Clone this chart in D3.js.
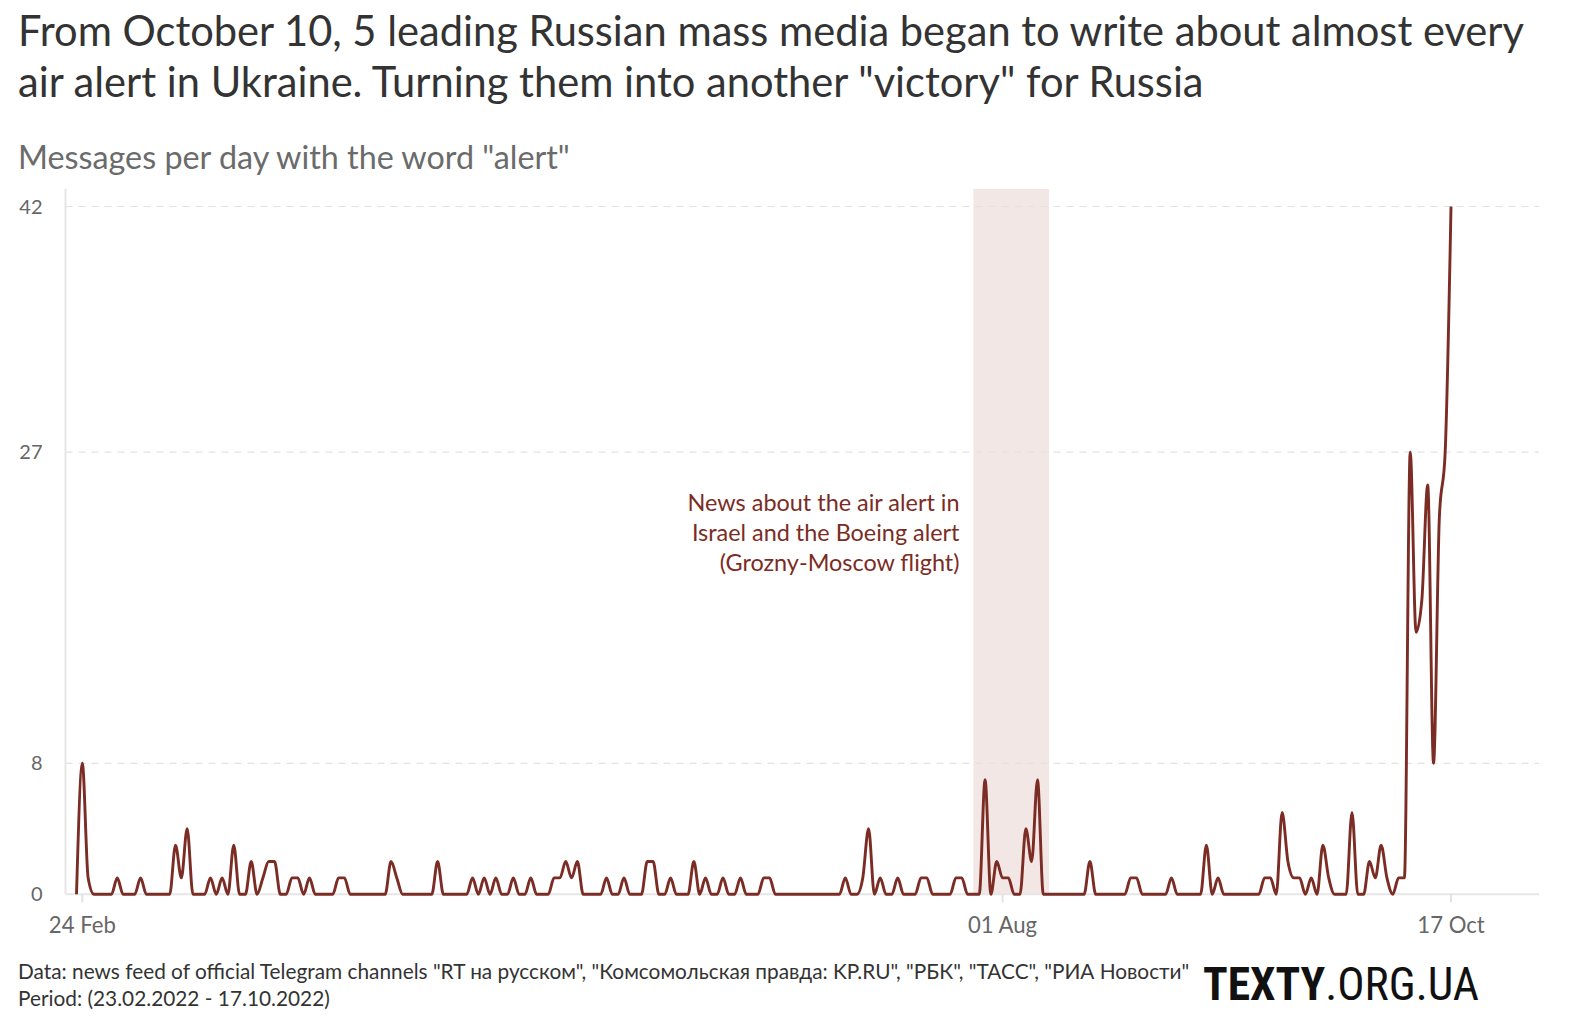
<!DOCTYPE html>
<html><head><meta charset="utf-8">
<script src="https://cdn.jsdelivr.net/npm/d3@7"></script>
<style>
html,body{margin:0;padding:0;background:#fff;}
svg{display:block;font-family:Lato,"Noto Sans",sans-serif;}
</style></head>
<body>
<svg id="chart" width="1577" height="1032"></svg>
<script>
// ---- data ----
const startDate = "2022-02-23";
const endDate = "2022-10-17";
const values = [
 0,8,1,0,0,0,0,1,0,0,
 0,1,0,0,0,0,0,3,1,4,
 0,0,0,1,0,1,0,3,0,0,
 2,0,1,2,2,0,0,1,1,0,
 1,0,0,0,0,1,1,0,0,0,
 0,0,0,0,2,1,0,0,0,0,
 0,0,2,0,0,0,0,0,1,0,
 1,0,1,0,0,1,0,0,1,0,
 0,0,1,1,2,1,2,0,0,0,
 0,1,0,0,1,0,0,0,2,2,
 0,0,1,0,0,0,2,0,1,0,
 0,1,0,0,1,0,0,0,1,1,
 0,0,0,0,0,0,0,0,0,0,
 0,0,1,0,0,1,4,0,1,0,
 0,1,0,0,0,1,1,0,0,0,
 0,1,1,0,0,0,7,0,2,1,
 1,0,0,4,2,7,0,0,0,0,
 0,0,0,0,2,0,0,0,0,0,
 0,1,1,0,0,0,0,0,1,0,
 0,0,0,0,3,0,1,0,0,0,
 0,0,0,0,1,1,0,5,2,1,
 1,0,1,0,3,1,0,0,0,5,
 0,0,2,1,3,1,0,1,1,27,
 16,18,25,8,23,27,42
];
const yTicks = [0, 8, 27, 42];
const xTicks = ["2022-02-24", "2022-08-01", "2022-10-17"];
const xTickLabels = ["24 Feb", "01 Aug", "17 Oct"];
const highlight = ["2022-07-27", "2022-08-09"];
const titleLines = [
  "From October 10, 5 leading Russian mass media began to write about almost every",
  "air alert in Ukraine. Turning them into another \"victory\" for Russia"
];
const subtitle = "Messages per day with the word \"alert\"";
const annotationLines = ["News about the air alert in", "Israel and the Boeing alert", "(Grozny-Moscow flight)"];
const sourceLines = [
  "Data: news feed of official Telegram channels \"RT на русском\", \"Комсомольская правда: KP.RU\", \"РБК\", \"ТАСС\", \"РИА Новости\"",
  "Period: (23.02.2022 - 17.10.2022)"
];

// ---- setup ----
const parse = d3.utcParse("%Y-%m-%d");
const dates = d3.utcDay.range(parse(startDate), d3.utcDay.offset(parse(endDate), 1));
const series = dates.map((d, i) => ({date: d, value: values[i]}));

const svg = d3.select("#chart");
const FONT = "Lato, 'Noto Sans', sans-serif";

function fit(sel, w) {
  const n = sel.node();
  const cur = n.getComputedTextLength();
  const fs = parseFloat(sel.attr("font-size"));
  const nf = fs * w / cur;
  sel.attr("font-size", nf.toFixed(2));
  return nf;
}

const x = d3.scaleUtc().domain([parse(startDate), parse(endDate)]).range([76.5, 1451]);
const y = d3.scaleLinear().domain([0, 42]).range([894.3, 206.5]);
const plotLeft = 65.5, plotRight = 1539, plotTop = 189;

// title
let titleSize = 38;
titleLines.forEach((t, i) => {
  const s = svg.append("text").attr("x", 18).attr("y", 46 + i * 51)
    .attr("font-size", titleSize).attr("fill", "#333").attr("font-family", FONT).text(t);
  if (i === 0) titleSize = fit(s, 1506);
});

const sub = svg.append("text").attr("x", 18).attr("y", 169).attr("font-size", 27)
  .attr("fill", "#6b6b6b").attr("font-family", FONT).text(subtitle);
fit(sub, 552);

// highlight band
svg.append("rect")
  .attr("x", x(parse(highlight[0]))).attr("y", plotTop)
  .attr("width", x(parse(highlight[1])) - x(parse(highlight[0])))
  .attr("height", y(0) - plotTop)
  .attr("fill", "#f3e7e5");

// gridlines
svg.append("g").selectAll("line").data(yTicks.filter(v => v > 0)).join("line")
  .attr("x1", plotLeft).attr("x2", plotRight)
  .attr("y1", d => y(d)).attr("y2", d => y(d))
  .attr("stroke", "#e2e2e2").attr("stroke-width", 1.2).attr("stroke-dasharray", "7,6");

// left axis line
svg.append("line").attr("x1", plotLeft).attr("x2", plotLeft).attr("y1", plotTop).attr("y2", y(0))
  .attr("stroke", "#e6e6e6").attr("stroke-width", 2);

// baseline
svg.append("line").attr("x1", plotLeft).attr("x2", plotRight).attr("y1", y(0)).attr("y2", y(0))
  .attr("stroke", "#e6e6e6").attr("stroke-width", 2);

// y labels
svg.append("g").selectAll("text").data(yTicks).join("text")
  .attr("x", 42.5).attr("y", d => y(d)).attr("dy", "0.35em")
  .attr("text-anchor", "end").attr("font-size", 20).attr("fill", "#666")
  .attr("font-family", FONT).text(d => d);

// x ticks
const xt = svg.append("g").selectAll("g").data(xTicks).join("g")
  .attr("transform", d => `translate(${x(parse(d))},0)`);
xt.append("line").attr("y1", y(0)).attr("y2", y(0) + 8).attr("stroke", "#e2e2e2").attr("stroke-width", 2);
const xl = xt.append("text").attr("y", 925).attr("dy", "0.35em").attr("text-anchor", "middle")
  .attr("font-size", 20).attr("fill", "#666").attr("font-family", FONT)
  .text((d, i) => xTickLabels[i]);
const xls = fit(d3.select(xl.nodes()[0]), 67);
xl.attr("font-size", xls.toFixed(2));

// line
const line = d3.line().x(d => x(d.date)).y(d => y(d.value)).curve(d3.curveMonotoneX);
svg.append("path").datum(series).attr("d", line)
  .attr("fill", "none").attr("stroke", "#7b2c24").attr("stroke-width", 2.9)
  .attr("stroke-linejoin", "round");

// annotation
let annSize = 22;
annotationLines.forEach((t, i) => {
  const s = svg.append("text").attr("x", 959.5).attr("y", 511 + i * 30)
    .attr("text-anchor", "end").attr("font-size", annSize).attr("fill", "#7b2c24")
    .attr("font-family", FONT).text(t);
  if (i === 0) annSize = fit(s, 272);
});

// source
const src = svg.append("text").attr("x", 18).attr("y", 979).attr("font-size", 17)
  .attr("fill", "#333").attr("font-family", FONT).text(sourceLines[0]);
fit(src, 1172);
svg.append("text").attr("x", 18).attr("y", 1006).attr("font-size", src.attr("font-size"))
  .attr("fill", "#333").attr("font-family", FONT).text(sourceLines[1]);

// logo
const logo = svg.append("text").attr("x", 1203).attr("y", 1000).attr("font-size", 44)
  .attr("fill", "#111").attr("font-family", "'Liberation Sans Narrow', 'Roboto Condensed', Roboto, sans-serif");
logo.append("tspan").attr("font-weight", 700).text("TEXTY");
logo.append("tspan").attr("font-weight", 400).text(".ORG.UA");
fit(logo, 276);
</script>
</body></html>
